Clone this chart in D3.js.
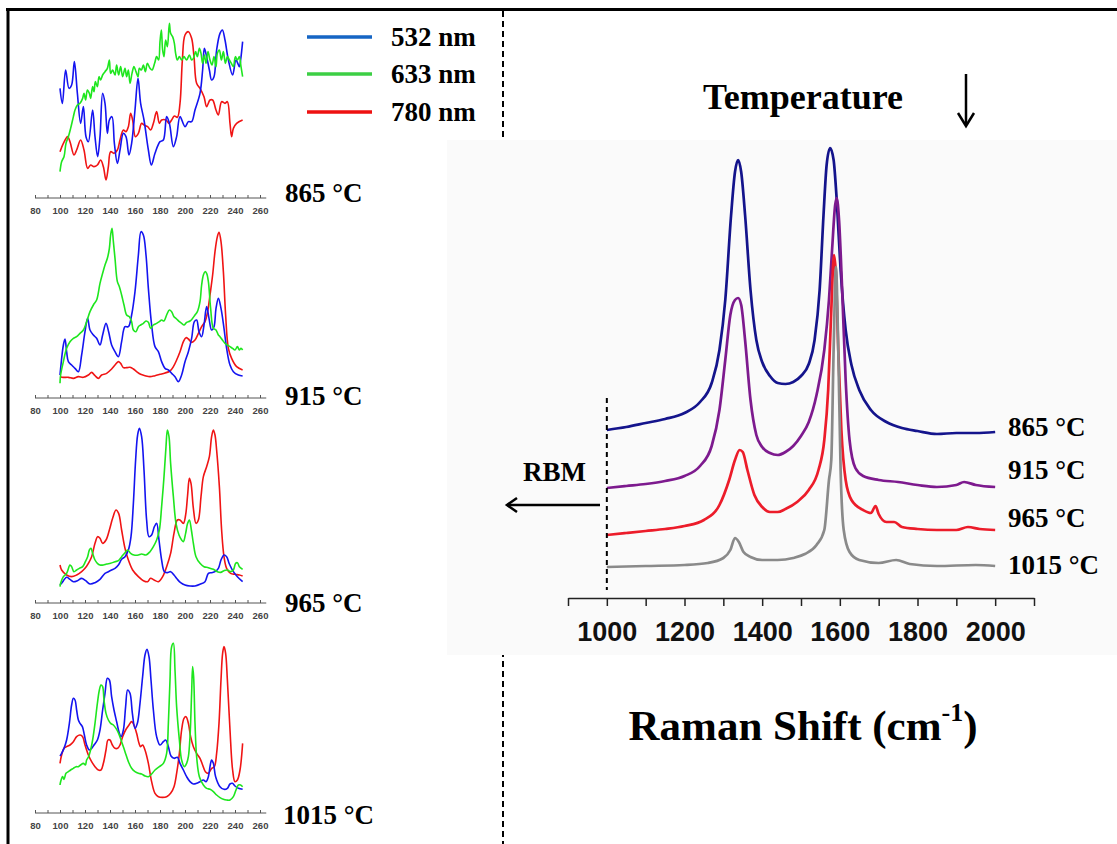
<!DOCTYPE html>
<html>
<head>
<meta charset="utf-8">
<script src="https://cdn.jsdelivr.net/npm/d3@7"></script>
<style>
  html, body { margin: 0; padding: 0; background: #ffffff; }
  svg { display: block; }
</style>
</head>
<body>
<script>
// ---------------- DATA ----------------
// Low-frequency (RBM) panels: [wavenumber cm-1, intensity a.u.]
const rbmTicks = [80, 100, 120, 140, 160, 180, 200, 220, 240, 260];
const temperatures = ["865 °C", "915 °C", "965 °C", "1015 °C"];
const lasers = ["532 nm", "633 nm", "780 nm"];

const rbm865_532 = [[100,305],[101.9,260],[104.5,360],[107.2,305],[109.3,315],[111.5,385],[113.9,290],[116.5,200],[118.7,250],[120.8,160],[122.7,145],[126.1,240],[128,160],[130.1,100],[132,160],[134.1,290],[136,260],[137.9,170],[139.5,210],[141.6,220],[143.5,140],[145.9,80],[148,120],[150.7,170],[152.8,160],[155.2,105],[157.3,140],[160,240],[162.4,335],[164.5,260],[167.2,210],[170.7,120],[173.1,75],[176,110],[180,145],[182.7,150],[185.3,220],[187.5,200],[190.7,130],[193.3,160],[196,220],[200,190],[202.7,205],[205.3,205],[208,240],[212,290],[214.1,360],[215.5,425],[217.3,400],[219.5,360],[221.3,330],[223.2,340],[225.3,420],[228,470],[229.9,480],[232,450],[234.7,390],[238.1,345],[240.8,390],[243.5,370],[244.5,390],[246.1,445]];
const rbm865_633 = [[100,55],[101.3,85],[103.2,100],[104.8,140],[106.7,160],[108.5,185],[110.7,220],[112,240],[113.9,255],[116,260],[118.1,275],[119.2,290],[120.5,270],[121.9,300],[123.5,290],[124.5,275],[126.1,310],[127.2,295],[128.3,325],[129.9,310],[131.2,340],[132.5,330],[134.1,345],[136,355],[137.9,365],[139.5,390],[140.5,350],[142.1,360],[144,345],[145.3,375],[146.9,345],[148.5,370],[150.1,340],[152,365],[153.3,340],[154.7,360],[156,320],[157.6,350],[159.2,370],[160.8,355],[162.4,340],[163.5,365],[165.1,360],[166.7,375],[168.3,355],[169.9,380],[172,365],[173.6,360],[175.7,380],[177.3,400],[178.9,390],[180,445],[181.1,480],[182.1,420],[183.2,400],[184.5,450],[185.9,430],[187.5,500],[188.5,470],[190.1,460],[191.5,440],[192.5,410],[193.9,390],[195.5,400],[197.3,390],[199.2,400],[201.3,390],[203.5,405],[205.3,390],[206.7,395],[208.5,415],[209.9,400],[211.5,425],[212.8,410],[214.1,380],[215.5,405],[216.8,380],[218.4,415],[220,390],[221.6,375],[223.2,400],[224.8,370],[225.9,410],[227.5,420],[229.1,390],[230.7,415],[232.3,380],[233.9,400],[235.5,390],[237.1,380],[238.7,370],[240.3,400],[241.9,390],[243.5,400],[244.8,370],[246.1,340]];
const rbm865_780 = [[100,115],[102.7,140],[106.1,160],[108,145],[111.2,105],[113.3,120],[116.5,150],[119.2,120],[122.1,65],[124.5,75],[127.2,70],[129.9,75],[132.5,90],[134.7,70],[136.8,30],[138.7,70],[140.5,115],[143.2,110],[145.9,120],[148,150],[150.7,180],[152.8,175],[154.7,190],[156.5,230],[158.1,210],[160.3,160],[162.7,170],[165.3,200],[167.2,195],[170.1,190],[172.5,180],[174.7,200],[177.3,235],[179.5,200],[181.3,210],[184.8,210],[187.2,200],[189.3,210],[191.5,222],[193.9,218],[196,260],[197.9,390],[200,465],[202.7,475],[205.3,455],[207.2,400],[209.3,320],[212,305],[215.2,280],[217.3,250],[220,270],[222.1,270],[224.8,240],[226.7,225],[229.3,265],[232,260],[233.9,265],[236,200],[237.3,160],[238.7,185],[241.3,200],[246.1,210]];

const rbm915_532 = [[100,60],[100.5,80],[102.7,150],[104,168],[105.3,130],[106.7,100],[109.3,90],[112,80],[114.7,70],[117.3,120],[120,190],[122.1,230],[124,195],[126.7,180],[129.3,170],[132,150],[134.1,180],[136.8,215],[138.9,190],[141.3,150],[144,130],[146.7,115],[149.3,160],[152,205],[154.7,205],[157.3,240],[160,310],[162.7,420],[164.8,490],[166.7,480],[168.8,420],[170.7,320],[173.3,210],[176,145],[178.7,130],[181.3,100],[184,80],[186.7,75],[189.3,65],[192,55],[194.7,40],[197.3,60],[200,100],[202.7,130],[205.3,170],[207.5,220],[209.3,225],[211.2,190],[213.3,175],[215.2,210],[217.3,265],[219.2,230],[221.3,195],[223.2,205],[224.8,260],[226.7,290],[228.8,260],[231.2,200],[233.3,140],[236,90],[238.7,70],[242.7,60],[246.1,57]];
const rbm915_633 = [[100,35],[100.5,60],[102.7,100],[105.3,140],[108,160],[110.7,170],[113.3,175],[116,185],[118.7,195],[121.3,220],[124,250],[126.7,270],[129.3,285],[132,335],[134.1,365],[136,390],[137.9,410],[139.5,440],[140.5,480],[141.6,500],[142.7,460],[144,410],[145.9,340],[147.5,325],[149.3,300],[151.2,270],[153.3,240],[155.5,235],[157.3,220],[158.7,195],[160.8,190],[162.7,205],[164.5,210],[166.7,215],[168.8,222],[170.7,218],[172.5,200],[174.7,210],[177.3,215],[179.5,220],[181.3,225],[183.2,222],[185.3,240],[187.5,255],[189.3,250],[191.2,235],[193.3,228],[195.5,220],[197.3,215],[199.2,210],[201.3,218],[204,222],[206.1,230],[208,240],[209.9,250],[212,280],[213.3,330],[214.7,360],[216,370],[217.3,365],[218.7,340],[220.5,260],[222.7,200],[224.8,195],[226.7,180],[228,175],[229.9,165],[232,155],[233.9,150],[236,145],[238.1,140],[240,135],[241.9,145],[243.5,135],[244.8,140],[246.1,135]];
const rbm915_780 = [[100,55],[102.7,53],[106.7,53],[110.7,50],[114.7,55],[118.7,53],[122.7,60],[125.3,68],[128,58],[130.7,50],[133.3,60],[137.3,65],[141.3,78],[144,90],[146.7,100],[148.5,95],[150.7,82],[153.3,82],[156,83],[158.7,78],[161.3,70],[164.5,62],[168,58],[172,55],[176,58],[180,62],[184,66],[188,72],[190.7,85],[193.3,105],[196,130],[198.7,160],[200.8,172],[202.7,168],[205.3,158],[208,165],[210.7,185],[213.3,205],[216,220],[218.1,250],[220,300],[222.1,360],[224,430],[225.9,475],[227.2,488],[228.8,460],[230.7,370],[232.5,240],[234.7,140],[237.3,110],[241.3,85],[246.1,75]];

const rbm965_532 = [[100,45],[101.3,50],[105.3,68],[108,62],[110.7,55],[113.9,58],[117.3,65],[120.5,58],[124,48],[128,52],[132,62],[136,80],[138.7,85],[141.3,90],[144,95],[146.7,105],[149.3,122],[152,130],[154.7,150],[156.8,190],[158.7,290],[160.5,420],[162.1,495],[163.5,515],[165.3,490],[167.2,390],[169.3,240],[171.2,190],[173.3,195],[175.5,220],[177.3,230],[179.2,180],[181.3,120],[183.5,85],[185.9,82],[188.5,85],[191.2,75],[193.9,62],[196.5,52],[200,45],[204,42],[208,42],[212,47],[216,55],[218.7,80],[221.3,82],[224,85],[226.7,95],[228.8,120],[231.2,135],[233.3,130],[235.5,108],[238.7,85],[241.9,70],[246.1,55]];
const rbm965_633 = [[100,40],[100.5,50],[102.7,70],[105.3,80],[108,105],[109.3,100],[111.2,85],[113.3,90],[115.5,95],[118.1,100],[120.3,115],[122.1,130],[123.5,150],[124.8,155],[126.1,140],[128,120],[129.9,110],[132,105],[134.7,105],[137.3,108],[140.5,110],[144,115],[146.7,118],[149.3,130],[152,142],[154.1,150],[156.5,140],[159.2,135],[162.7,135],[165.3,138],[168.8,135],[172,145],[174.7,160],[177.3,180],[179.5,210],[181.3,280],[183.2,370],[184.8,460],[185.9,510],[187.2,490],[188.5,410],[190.7,310],[192.8,230],[195.2,195],[197.3,180],[198.7,175],[200.5,200],[202.1,230],[203.5,240],[205.1,210],[206.7,170],[208.8,130],[212,110],[215.2,100],[218.7,97],[222.7,92],[225.9,85],[228.5,83],[231.2,88],[233.9,90],[236.5,85],[238.7,90],[240.5,110],[241.9,112],[243.5,100],[246.1,92]];
const rbm965_780 = [[100,105],[101.3,90],[105.3,75],[109.3,70],[113.3,75],[117.3,85],[120,95],[122.7,110],[125.3,130],[128,170],[130.1,190],[132,185],[134.1,170],[136.8,180],[139.5,210],[142.1,245],[144.8,270],[146.9,260],[149.3,210],[152,155],[154.7,120],[158.1,90],[162.7,70],[166.7,58],[170.1,55],[172.5,65],[175.2,60],[178.7,55],[182.1,70],[185.3,100],[188.5,140],[191.2,200],[193.9,240],[196,240],[198.7,230],[200.5,255],[202.1,315],[203.5,365],[204.8,350],[206.7,275],[208.8,230],[210.7,240],[212.8,310],[214.7,370],[217.3,400],[219.5,430],[221.3,490],[222.7,510],[224,495],[225.3,450],[227.5,340],[229.3,210],[231.2,130],[233.3,95],[236.5,80],[240,77],[243.5,75],[246.1,72]];

const rbm1015_532 = [[100,162],[101.3,170],[103.2,185],[105.3,210],[107.5,260],[109.3,315],[110.7,335],[112,330],[113.3,300],[114.7,270],[116,260],[117.9,250],[119.5,225],[121.3,195],[123.5,180],[125.3,185],[127.2,195],[129.9,210],[132,240],[134.1,300],[136,350],[137.9,395],[139.5,390],[141.3,340],[143.2,300],[145.3,265],[147.5,230],[148.8,220],[150.7,240],[152.5,310],[154.1,360],[156,350],[157.9,290],[160,245],[161.9,260],[164,320],[166.1,400],[168,465],[169.6,482],[171.2,460],[172.8,390],[174.7,300],[177.3,220],[180,195],[182.7,205],[184.5,210],[186.7,190],[188.8,162],[191.2,155],[193.9,158],[196,140],[198.7,120],[201.3,100],[204,85],[206.7,78],[209.3,80],[212,85],[214.7,90],[216.8,85],[218.7,100],[220,130],[221.3,150],[222.7,140],[224.5,100],[228,70],[231.2,62],[233.9,65],[236,78],[237.9,80],[240,72],[242.7,65],[246.1,62]];
const rbm1015_633 = [[100,75],[100.5,85],[102.1,100],[103.2,92],[104.8,110],[106.7,115],[108.5,120],[110.7,125],[112.8,130],[114.7,130],[116.5,135],[118.7,140],[120.3,135],[121.3,150],[122.9,160],[124.5,180],[126.1,210],[128,260],[129.9,320],[131.5,360],[132.8,375],[134.1,370],[135.2,330],[136.8,290],[138.7,270],[140.5,260],[142.7,255],[144.8,245],[146.9,230],[149.3,205],[152,175],[154.7,145],[157.3,125],[160,115],[162.7,110],[165.3,108],[168,102],[170.7,100],[173.3,108],[176,120],[179.5,130],[182.7,140],[185.3,170],[186.7,260],[188,390],[189.3,490],[190.7,500],[192,420],[193.3,310],[195.5,210],[197.3,150],[199.5,130],[201.3,140],[202.7,160],[204,220],[205.3,350],[206.1,430],[206.9,400],[208,260],[209.3,160],[211.5,100],[214.7,75],[217.3,65],[220,62],[222.7,55],[225.3,45],[228,37],[230.7,32],[233.3,30],[236,30],[238.7,40],[240.8,60],[242.7,75],[244.5,75],[246.1,70]];
const rbm1015_780 = [[100,140],[101.3,165],[103.2,185],[105.3,190],[108,195],[110.7,205],[113.3,220],[116,225],[118.1,220],[120,195],[122.7,165],[125.3,145],[128,130],[130.7,120],[132.8,120],[134.7,140],[136.8,180],[138.4,210],[140,210],[141.9,195],[144,185],[146.1,185],[148,195],[150.1,220],[152.5,240],[155.2,255],[157.3,265],[159.2,255],[161.3,230],[163.2,200],[164.5,190],[166.1,195],[168,180],[170.7,140],[173.3,85],[176,50],[178.7,40],[182.1,38],[185.3,40],[188.5,50],[191.2,70],[193.3,110],[195.5,170],[197.3,240],[199.2,275],[200.8,280],[202.7,260],[204.5,220],[206.7,190],[209.3,170],[212,155],[214.1,135],[216.3,115],[218.7,110],[221.3,125],[223.5,130],[225.3,170],[227.2,260],[228.8,390],[230.1,470],[231.2,490],[232.5,470],[233.9,390],[236,240],[238.1,120],[240,85],[241.9,90],[244,120],[246.1,200]];

// High-frequency Raman spectra (stacked, a.u.): [Raman shift cm-1, intensity]
const ramanTicks = [1000, 1200, 1400, 1600, 1800, 2000];
const raman865 = [[1000,168],[1050,171],[1100,175],[1150,179],[1200,185],[1240,196],[1270,215],[1290,248],[1305,298],[1320,383],[1330,426],[1338,438],[1346,426],[1356,383],[1370,308],[1385,258],[1400,236],[1420,222],[1440,215],[1460,214],[1480,216],[1500,222],[1520,234],[1535,258],[1548,308],[1558,383],[1566,433],[1575,450],[1584,438],[1592,398],[1602,328],[1615,268],[1630,233],[1650,208],[1680,188],[1720,176],[1760,170],[1800,167],[1850,164],[1900,165],[1950,165],[2000,166]];
const raman915 = [[1000,110],[1050,112],[1100,114],[1150,117],[1200,122],[1240,132],[1270,152],[1290,188],[1305,238],[1318,283],[1330,298],[1338,300],[1346,293],[1356,258],[1370,198],[1385,163],[1400,151],[1420,145],[1440,143],[1460,146],[1480,152],[1500,162],[1520,176],[1540,203],[1560,248],[1572,298],[1580,348],[1588,393],[1592,400],[1598,378],[1606,308],[1615,218],[1625,158],[1640,130],[1660,122],[1700,118],[1750,116],[1800,113],[1850,111],[1900,113],[1920,116],[1950,113],[2000,111]];
const raman965 = [[1000,63],[1050,65],[1100,67],[1150,69],[1200,72],[1250,78],[1290,93],[1315,118],[1330,138],[1342,148],[1350,146],[1362,128],[1380,103],[1400,91],[1420,86],[1440,86],[1460,89],[1490,96],[1520,108],[1545,128],[1560,158],[1570,208],[1578,288],[1585,343],[1590,323],[1596,248],[1604,168],[1615,118],[1630,98],[1660,88],[1680,85],[1692,92],[1700,84],[1720,76],[1740,76],[1760,71],[1800,69],[1850,68],[1900,68],[1930,71],[1960,69],[2000,68]];
const raman1015 = [[1000,31],[1100,32],[1200,33],[1260,35],[1300,40],[1318,48],[1330,60],[1340,56],[1352,46],[1370,41],[1400,38],[1440,38],[1480,40],[1510,44],[1540,53],[1560,68],[1572,118],[1578,138],[1584,248],[1590,331],[1596,248],[1602,128],[1610,68],[1625,46],[1650,38],[1700,35],[1745,38],[1780,34],[1850,32],[1950,33],[2000,32]];

// ---------------- DRAWING ----------------
const W = 1117, H = 844;
const svg = d3.select("body").append("svg").attr("width", W).attr("height", H);
svg.append("rect").attr("width", W).attr("height", H).attr("fill", "#ffffff");

const serif = "'Liberation Serif', 'Times New Roman', serif";
const sans = "'Liberation Sans', Arial, sans-serif";

// figure frame (top & left) and dashed divider
svg.append("line").attr("x1", 6).attr("x2", W).attr("y1", 9.5).attr("y2", 9.5)
  .attr("stroke", "#000").attr("stroke-width", 3);
svg.append("line").attr("x1", 8).attr("x2", 8).attr("y1", 8).attr("y2", H)
  .attr("stroke", "#000").attr("stroke-width", 3);
svg.append("line").attr("x1", 503).attr("x2", 503).attr("y1", 11).attr("y2", H)
  .attr("stroke", "#000").attr("stroke-width", 2).attr("stroke-dasharray", "6,4");

// ---- left: RBM panels ----
const rbmColors = ["#1414f0", "#1ee61e", "#f01414"];
const rbmSets = [
  [rbm865_532, rbm865_633, rbm865_780],
  [rbm915_532, rbm915_633, rbm915_780],
  [rbm965_532, rbm965_633, rbm965_780],
  [rbm1015_532, rbm1015_633, rbm1015_780]
];
const panelTop = [10, 215, 420, 630];
const panelAxisY = [198, 398, 603, 813];
const tempLabelY = [193, 396, 603, 815];

const xL = d3.scaleLinear().domain([80, 260]).range([35, 260]);

rbmSets.forEach((set, i) => {
  const yL = d3.scaleLinear().domain([0, 540]).range([panelTop[i] + 180, panelTop[i]]);
  const line = d3.line().x(d => xL(d[0])).y(d => yL(d[1])).curve(d3.curveCatmullRom.alpha(0.5));
  [2, 0, 1].forEach(k => {
    svg.append("path").datum(set[k]).attr("d", line)
      .attr("fill", "none").attr("stroke", rbmColors[k]).attr("stroke-width", 1.6)
      .attr("stroke-linejoin", "round");
  });
  const ax = d3.axisBottom(xL)
    .tickValues(d3.range(80, 261, 10))
    .tickFormat(d => rbmTicks.includes(d) ? d : "")
    .tickSizeInner(-3).tickSizeOuter(0).tickPadding(9);
  const g = svg.append("g").attr("transform", `translate(0,${panelAxisY[i]})`).call(ax);
  g.select(".domain").attr("stroke", "#555").attr("d", `M${xL(80)},0H${xL(265)}`);
  g.selectAll(".tick line").attr("stroke", "#555");
  g.selectAll("text").attr("font-family", sans).attr("font-weight", "bold")
    .attr("font-size", 9.5).attr("fill", "#444");
  svg.append("text").attr("x", i === 3 ? 283 : 285).attr("y", tempLabelY[i]).attr("dy", "0.35em")
    .attr("font-family", serif).attr("font-weight", "bold").attr("font-size", 27)
    .attr("fill", "#000").text(temperatures[i]);
});

// legend
const legendColors = ["#1565c4", "#3ccf44", "#ee1111"];
const legendY = [37, 74, 112];
lasers.forEach((t, i) => {
  svg.append("line").attr("x1", 307).attr("x2", 372).attr("y1", legendY[i]).attr("y2", legendY[i])
    .attr("stroke", legendColors[i]).attr("stroke-width", 3.5);
  svg.append("text").attr("x", 391).attr("y", legendY[i]).attr("dy", "0.35em")
    .attr("font-family", serif).attr("font-weight", "bold").attr("font-size", 27)
    .attr("fill", "#000").text(t);
});

// ---- right: Raman spectra ----
svg.append("rect").attr("x", 447).attr("y", 140).attr("width", W - 447).attr("height", 515)
  .attr("fill", "#fafafa");

const xR = d3.scaleLinear().domain([900, 2100]).range([568, 1034]);
const yR = d3.scaleLinear().domain([0, 460]).range([598, 138]);
const lineR = d3.line().x(d => xR(d[0])).y(d => yR(d[1])).curve(d3.curveMonotoneX);

const ramanSets = [raman865, raman915, raman965, raman1015];
const ramanColors = ["#14148c", "#7d1a8e", "#ec1c2a", "#8a8a8a"];
ramanSets.forEach((s, i) => {
  svg.append("path").datum(s).attr("d", lineR).attr("fill", "none")
    .attr("stroke", ramanColors[i]).attr("stroke-width", 2.7).attr("stroke-linejoin", "round");
});

const axR = d3.axisBottom(xR)
  .tickValues(d3.range(900, 2101, 100))
  .tickFormat(d => ramanTicks.includes(d) ? d : "")
  .tickSizeInner(8).tickSizeOuter(0).tickPadding(16);
const gR = svg.append("g").attr("transform", "translate(0,598)").call(axR);
gR.select(".domain").attr("stroke", "#222").attr("stroke-width", 1.5);
gR.selectAll(".tick line").attr("stroke", "#222").attr("stroke-width", 1.5);
gR.selectAll("text").attr("font-family", sans).attr("font-weight", "bold")
  .attr("font-size", 27).attr("fill", "#111");

// RBM cut marker and arrow
svg.append("line").attr("x1", xR(1000)).attr("x2", xR(1000)).attr("y1", 398).attr("y2", 590)
  .attr("stroke", "#000").attr("stroke-width", 2).attr("stroke-dasharray", "5,4");
svg.append("line").attr("x1", 600).attr("x2", 507).attr("y1", 505).attr("y2", 505)
  .attr("stroke", "#000").attr("stroke-width", 2.5);
svg.append("path").attr("d", "M517,498L507,505L517,512").attr("fill", "none")
  .attr("stroke", "#000").attr("stroke-width", 2.5);
svg.append("text").attr("x", 523).attr("y", 472).attr("dy", "0.35em")
  .attr("font-family", serif).attr("font-weight", "bold").attr("font-size", 27).text("RBM");

// temperature labels on right
const rightLabelY = [427, 470, 518, 565];
temperatures.forEach((t, i) => {
  svg.append("text").attr("x", 1008).attr("y", rightLabelY[i]).attr("dy", "0.35em")
    .attr("font-family", serif).attr("font-weight", "bold").attr("font-size", 27)
    .attr("fill", "#000").text(t);
});

// Temperature heading with arrow
svg.append("text").attr("x", 703).attr("y", 96).attr("dy", "0.35em")
  .attr("font-family", serif).attr("font-weight", "bold").attr("font-size", 36).text("Temperature");
svg.append("line").attr("x1", 966).attr("x2", 966).attr("y1", 74).attr("y2", 125)
  .attr("stroke", "#000").attr("stroke-width", 2.5);
svg.append("path").attr("d", "M958,113L966,126L974,113").attr("fill", "none")
  .attr("stroke", "#000").attr("stroke-width", 2.5);

// x-axis title
const title = svg.append("text").attr("x", 803).attr("y", 725).attr("dy", "0.35em")
  .attr("text-anchor", "middle").attr("font-family", serif).attr("font-weight", "bold")
  .attr("font-size", 43).attr("fill", "#000");
title.append("tspan").text("Raman Shift (cm");
title.append("tspan").attr("font-size", 26).attr("dy", "-0.75em").text("-1");
title.append("tspan").attr("dy", "0.45em").text(")");
</script>
</body>
</html>
